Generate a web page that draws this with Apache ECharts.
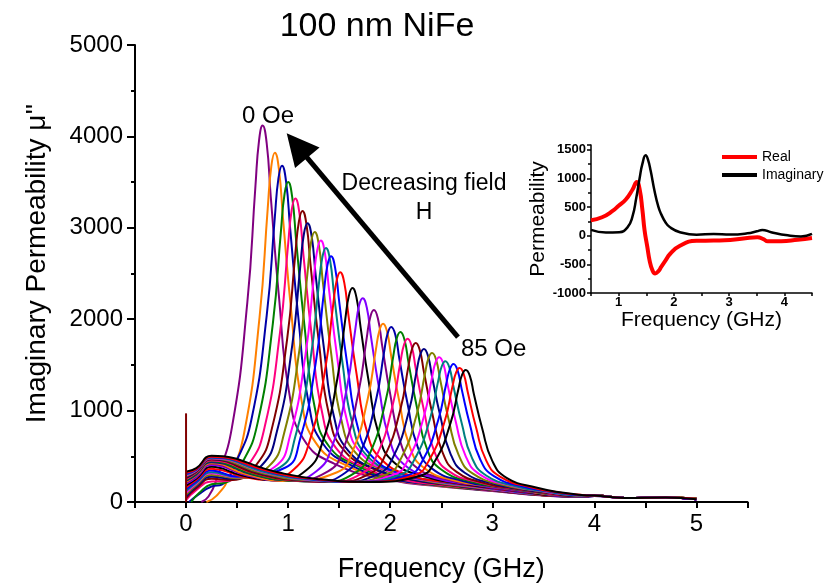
<!DOCTYPE html>
<html><head><meta charset="utf-8">
<script src="https://cdn.jsdelivr.net/npm/echarts@6/dist/echarts.min.js"></script>
<style>html,body{margin:0;padding:0;background:#fff}#c{width:833px;height:588px}</style>
</head><body><div id="c"></div>
<script>
// Main plot: imaginary permeability curves, [frequency GHz, mu''], from 0 Oe (c1) to 85 Oe (c27)
const c1 = [[0.15,0],[0.22,60],[0.3,250],[0.45,820],[0.6,2180],[0.68,3460],[0.715,3955],[0.75,4120],[0.79,3925],[0.83,3340],[0.91,2250],[1.01,1200],[1.15,690],[1.45,420],[2.0,240],[2.5,170],[3.0,120],[3.5,70],[3.9,55],[4.0,65],[4.3,45],[4.7,50],[5.0,30]];
const c2 = [[0.2,0],[0.3,70],[0.42,270],[0.57,760],[0.72,2020],[0.8,3210],[0.835,3670],[0.87,3820],[0.91,3640],[0.95,3100],[1.03,2090],[1.13,1120],[1.27,650],[1.57,400],[2.0,250],[2.5,175],[3.0,125],[3.5,75],[3.9,60],[4.0,70],[4.3,45],[4.7,50],[5.0,30]];
const c3 = [[0.03,0],[0.12,80],[0.25,170],[0.35,190],[0.49,440],[0.64,900],[0.79,2040],[0.87,3120],[0.905,3540],[0.94,3680],[0.98,3505],[1.02,2990],[1.10,2020],[1.20,1090],[1.34,640],[1.64,390],[2.0,255],[2.5,180],[3.0,125],[3.5,75],[3.9,55],[4.0,65],[4.3,45],[4.7,50],[5.0,35]];
const c4 = [[0.05,0],[0.13,100],[0.25,195],[0.38,210],[0.55,430],[0.70,860],[0.85,1950],[0.93,2970],[0.965,3370],[1.0,3500],[1.04,3335],[1.08,2840],[1.16,1930],[1.26,1040],[1.40,610],[1.70,385],[2.0,270],[2.5,180],[3.0,125],[3.5,75],[3.9,60],[4.0,70],[4.3,45],[4.7,50],[5.0,30]];
const c5 = [[0,20],[0.1,130],[0.25,225],[0.4,230],[0.62,420],[0.77,820],[0.92,1850],[1.0,2820],[1.035,3195],[1.07,3320],[1.11,3165],[1.15,2700],[1.23,1830],[1.33,995],[1.47,590],[1.77,365],[2.1,250],[2.5,185],[3.0,125],[3.5,75],[3.9,60],[4.0,70],[4.3,45],[4.7,50],[5.0,30]];
const c6 = [[0,40],[0.1,150],[0.25,255],[0.45,240],[0.69,410],[0.84,800],[0.99,1780],[1.07,2710],[1.105,3065],[1.14,3185],[1.18,3035],[1.22,2590],[1.30,1760],[1.40,960],[1.54,575],[1.84,360],[2.2,245],[2.6,180],[3.0,130],[3.5,75],[3.9,60],[4.0,70],[4.3,45],[4.7,50],[5.0,35]];
const c7 = [[0,60],[0.1,170],[0.25,275],[0.45,255],[0.74,400],[0.89,770],[1.04,1710],[1.12,2590],[1.155,2935],[1.19,3050],[1.23,2910],[1.27,2480],[1.35,1690],[1.45,930],[1.59,560],[1.89,345],[2.2,250],[2.6,185],[3.0,130],[3.5,80],[3.9,60],[4.0,70],[4.3,45],[4.7,50],[5.0,30]];
const c8 = [[0,80],[0.1,185],[0.25,295],[0.5,260],[0.81,390],[0.96,750],[1.11,1660],[1.19,2510],[1.225,2845],[1.26,2955],[1.30,2820],[1.34,2410],[1.42,1640],[1.52,905],[1.66,540],[1.96,340],[2.3,240],[2.7,175],[3.0,135],[3.5,80],[3.9,60],[4.0,70],[4.3,45],[4.7,50],[5.0,35]];
const c9 = [[0,100],[0.1,200],[0.25,315],[0.5,270],[0.87,385],[1.02,730],[1.17,1610],[1.25,2430],[1.285,2755],[1.32,2860],[1.36,2725],[1.40,2330],[1.48,1590],[1.58,875],[1.72,530],[2.02,325],[2.4,230],[2.8,170],[3.1,125],[3.5,80],[3.9,60],[4.0,70],[4.3,45],[4.7,50],[5.0,30]];
const c10 = [[0,120],[0.1,210],[0.25,325],[0.5,275],[0.92,380],[1.07,715],[1.22,1570],[1.30,2370],[1.335,2675],[1.37,2780],[1.41,2650],[1.45,2270],[1.53,1545],[1.63,855],[1.77,510],[2.07,320],[2.4,235],[2.8,175],[3.1,130],[3.5,80],[3.9,60],[4.0,70],[4.3,45],[4.7,50],[5.0,35]];
const c11 = [[0,140],[0.1,225],[0.25,345],[0.5,280],[0.97,375],[1.12,700],[1.27,1520],[1.35,2290],[1.385,2590],[1.42,2690],[1.46,2565],[1.50,2195],[1.58,1500],[1.68,830],[1.82,500],[2.12,305],[2.5,225],[2.9,165],[3.2,120],[3.5,85],[3.9,60],[4.0,70],[4.3,45],[4.7,50],[5.0,30]];
const c12 = [[0,160],[0.1,240],[0.25,365],[0.55,280],[0.8,240],[1.06,360],[1.21,665],[1.36,1430],[1.44,2145],[1.475,2420],[1.51,2515],[1.55,2400],[1.59,2050],[1.67,1405],[1.77,780],[1.91,470],[2.21,285],[2.6,210],[3.0,150],[3.3,110],[3.6,70],[3.9,60],[4.0,70],[4.3,45],[4.7,50],[5.0,35]];
const c13 = [[0,180],[0.1,255],[0.25,385],[0.55,290],[0.9,235],[1.18,350],[1.33,630],[1.48,1335],[1.56,2000],[1.595,2255],[1.63,2340],[1.67,2235],[1.71,1910],[1.79,1315],[1.89,730],[2.03,440],[2.33,280],[2.7,200],[3.0,155],[3.3,115],[3.6,70],[3.9,60],[4.0,70],[4.3,45],[4.7,50],[5.0,30]];
const c14 = [[0,200],[0.1,270],[0.25,405],[0.6,290],[1.0,230],[1.28,340],[1.43,605],[1.58,1275],[1.66,1905],[1.695,2150],[1.73,2230],[1.77,2130],[1.81,1820],[1.89,1250],[1.99,695],[2.13,415],[2.43,265],[2.8,190],[3.1,145],[3.4,105],[3.7,65],[3.9,60],[4.0,70],[4.3,45],[4.7,50],[5.0,35]];
const c15 = [[0,210],[0.1,280],[0.25,415],[0.6,295],[1.0,230],[1.39,335],[1.54,580],[1.69,1205],[1.77,1795],[1.805,2025],[1.84,2100],[1.88,2005],[1.92,1720],[2.0,1180],[2.10,655],[2.24,395],[2.54,250],[2.9,180],[3.2,135],[3.5,95],[3.8,60],[4.0,70],[4.3,45],[4.7,50],[5.0,30]];
const c16 = [[0,220],[0.1,290],[0.25,425],[0.6,300],[1.0,230],[1.48,325],[1.63,550],[1.78,1130],[1.86,1670],[1.895,1880],[1.93,1950],[1.97,1860],[2.01,1595],[2.09,1095],[2.19,610],[2.33,375],[2.63,235],[3.0,170],[3.3,125],[3.6,80],[3.9,60],[4.0,70],[4.3,45],[4.7,50],[5.0,35]];
const c17 = [[0,230],[0.1,300],[0.25,435],[0.65,300],[1.0,235],[1.3,225],[1.56,320],[1.71,545],[1.86,1110],[1.94,1640],[1.975,1845],[2.01,1915],[2.05,1830],[2.09,1565],[2.17,1075],[2.27,600],[2.41,365],[2.71,230],[3.05,165],[3.35,120],[3.65,75],[3.9,60],[4.0,70],[4.3,45],[4.7,50],[5.0,30]];
const c18 = [[0,240],[0.1,310],[0.25,445],[0.65,305],[1.0,235],[1.35,220],[1.65,315],[1.80,530],[1.95,1080],[2.03,1595],[2.065,1795],[2.10,1860],[2.14,1775],[2.18,1520],[2.26,1045],[2.36,580],[2.50,355],[2.80,220],[3.1,160],[3.4,115],[3.7,70],[3.95,65],[4.0,70],[4.3,45],[4.7,50],[5.0,35]];
const c19 = [[0,250],[0.1,320],[0.25,455],[0.7,305],[1.05,235],[1.4,220],[1.72,310],[1.87,515],[2.02,1040],[2.10,1530],[2.135,1720],[2.17,1785],[2.21,1705],[2.25,1460],[2.33,1005],[2.43,560],[2.57,340],[2.87,215],[3.15,155],[3.45,110],[3.75,70],[4.0,70],[4.3,45],[4.7,50],[5.0,30]];
const c20 = [[0,260],[0.1,330],[0.25,465],[0.7,310],[1.1,235],[1.45,220],[1.80,310],[1.95,510],[2.10,1015],[2.18,1495],[2.215,1680],[2.25,1740],[2.29,1660],[2.33,1425],[2.41,980],[2.51,550],[2.65,330],[2.95,200],[3.2,150],[3.5,105],[3.8,65],[4.0,70],[4.3,45],[4.7,50],[5.0,35]];
const c21 = [[0,270],[0.1,335],[0.25,470],[0.75,310],[1.1,240],[1.5,220],[1.88,305],[2.03,495],[2.18,980],[2.26,1440],[2.295,1615],[2.33,1675],[2.37,1600],[2.41,1370],[2.49,945],[2.59,530],[2.73,320],[3.03,195],[3.3,140],[3.6,95],[3.85,65],[4.0,70],[4.3,45],[4.7,50],[5.0,30]];
const c22 = [[0,280],[0.1,340],[0.25,475],[0.75,315],[1.15,240],[1.55,220],[1.96,300],[2.11,485],[2.26,960],[2.34,1400],[2.375,1575],[2.41,1630],[2.45,1555],[2.49,1335],[2.57,915],[2.67,515],[2.81,310],[3.11,185],[3.4,130],[3.7,85],[3.9,65],[4.0,70],[4.3,45],[4.7,50],[5.0,35]];
const c23 = [[0,290],[0.1,345],[0.25,480],[0.8,315],[1.2,240],[1.6,220],[2.03,295],[2.18,475],[2.33,935],[2.41,1365],[2.445,1530],[2.48,1585],[2.52,1515],[2.56,1295],[2.64,890],[2.74,500],[2.88,300],[3.18,180],[3.45,125],[3.75,80],[4.0,70],[4.3,45],[4.7,50],[5.0,30]];
const c24 = [[0,300],[0.1,350],[0.25,485],[0.8,320],[1.2,245],[1.65,220],[2.09,295],[2.24,470],[2.39,910],[2.47,1325],[2.505,1485],[2.54,1540],[2.58,1470],[2.62,1260],[2.70,865],[2.80,485],[2.94,290],[3.24,170],[3.5,120],[3.8,75],[4.0,70],[4.3,45],[4.7,50],[5.0,35]];
const c25 = [[0,310],[0.1,355],[0.25,490],[0.85,320],[1.25,245],[1.7,220],[2.17,290],[2.32,460],[2.47,895],[2.55,1300],[2.585,1455],[2.62,1510],[2.66,1440],[2.70,1235],[2.78,850],[2.88,470],[3.02,280],[3.32,165],[3.6,110],[3.85,75],[4.0,70],[4.3,45],[4.7,50],[5.0,30]];
const c26 = [[0,320],[0.1,360],[0.25,495],[0.85,325],[1.3,245],[1.75,220],[2.23,290],[2.38,455],[2.53,870],[2.61,1265],[2.645,1415],[2.68,1465],[2.72,1400],[2.76,1200],[2.84,820],[2.94,455],[3.08,275],[3.38,160],[3.65,105],[3.9,75],[4.0,70],[4.3,45],[4.7,50],[5.0,35]];
const c27 = [[0,330],[0.1,370],[0.25,505],[0.9,325],[1.3,250],[1.8,220],[2.29,285],[2.44,450],[2.59,860],[2.67,1245],[2.705,1395],[2.74,1445],[2.78,1380],[2.82,1180],[2.90,810],[3.00,450],[3.14,265],[3.44,155],[3.7,100],[3.9,75],[4.0,70],[4.3,45],[4.7,50],[5.0,30]];
const spike = [[0,0],[0,970]];

// Inset: complex permeability of one curve
const insetReal = [[0.5,270],[0.7,320],[0.89,430],[1.0,520],[1.13,630],[1.25,800],[1.33,935],[1.38,810],[1.43,450],[1.47,90],[1.52,-200],[1.56,-430],[1.61,-600],[1.66,-660],[1.72,-620],[1.77,-545],[1.85,-430],[1.93,-320],[2.11,-175],[2.41,-90],[2.72,-85],[3.02,-75],[3.33,-40],[3.51,-30],[3.62,-60],[3.70,-100],[3.94,-98],[4.24,-70],[4.5,-40]];
const insetImag = [[0.5,100],[0.77,55],[1.01,60],[1.16,145],[1.25,330],[1.32,660],[1.38,1000],[1.43,1250],[1.49,1400],[1.53,1330],[1.58,1130],[1.65,780],[1.72,500],[1.77,375],[1.85,230],[1.93,145],[2.11,60],[2.41,15],[2.72,30],[3.02,20],[3.33,40],[3.5,75],[3.6,100],[3.76,60],[4.06,5],[4.3,-15],[4.5,30]];

// Arrow annotation (data coords): tail and head
const arrowTail = [2.664, 1805];
const arrowHead = [1.087, 3900];

const curves = [c1,c2,c3,c4,c5,c6,c7,c8,c9,c10,c11,c12,c13,c14,c15,c16,c17,c18,c19,c20,c21,c22,c23,c24,c25,c26,c27];
const palette = ['#800080','#FF8000','#0000A8','#008000','#FF0080','#800000','#000080','#808000','#FF00FF','#008080','#0000FF','#FF0000','#000000','#8000FF'];

const FONT = "'Liberation Sans', Arial, sans-serif";
const chart = echarts.init(document.getElementById('c'), null, {renderer:'canvas'});

const mainSeries = curves.map((d, i) => ({
  type:'line', xAxisIndex:0, yAxisIndex:0, data:d, smooth:0.5,
  showSymbol:false, silent:true, clip:true,
  lineStyle:{width:2, color:palette[i % palette.length]}
}));
mainSeries.push({
  type:'line', xAxisIndex:0, yAxisIndex:0, data:spike, showSymbol:false, silent:true,
  lineStyle:{width:2, color:'#800000'}
});
mainSeries.push({
  type:'line', xAxisIndex:0, yAxisIndex:0, data:[], silent:true,
  markLine:{
    silent:true, animation:false,
    symbol:['none','triangle'], symbolSize:32,
    label:{show:false},
    lineStyle:{color:'#000', width:5, type:'solid'},
    data:[[{coord:arrowTail, symbol:'none'},{coord:arrowHead, symbol:'triangle', symbolSize:32}]]
  }
});

const axisLineStyle = {color:'#000', width:2};

const option = {
  animation:false,
  backgroundColor:'#fff',
  grid:[
    {left:135, top:45, right:85.5, bottom:86, containLabel:false},
    {left:591, top:145, width:221, height:148, containLabel:false}
  ],
  xAxis:[
    {type:'value', gridIndex:0, min:-0.5, max:5.5, interval:0.5,
     axisLine:{show:true, onZero:false, lineStyle:axisLineStyle},
     axisTick:{show:true, length:6, lineStyle:axisLineStyle},
     axisLabel:{formatter:v => Number.isInteger(v) ? String(v) : '', fontSize:24, color:'#000', margin:10, fontFamily:FONT},
     splitLine:{show:false},
     name:'Frequency (GHz)', nameLocation:'middle', nameGap:54,
     nameTextStyle:{fontSize:27, color:'#000', fontFamily:FONT}},
    {type:'value', gridIndex:1, min:0.5, max:4.5, interval:0.5,
     axisLine:{show:true, onZero:false, lineStyle:{color:'#000', width:1.5}},
     axisTick:{show:true, length:3, lineStyle:{color:'#000', width:1.5}},
     axisLabel:{formatter:v => Number.isInteger(v) ? String(v) : '', fontSize:13, fontWeight:'bold', color:'#000', margin:3, fontFamily:FONT},
     splitLine:{show:false},
     name:'Frequency (GHz)', nameLocation:'middle', nameGap:13,
     nameTextStyle:{fontSize:21, color:'#000', fontFamily:FONT}}
  ],
  yAxis:[
    {type:'value', gridIndex:0, min:0, max:5000, interval:1000,
     axisLine:{show:true, onZero:false, lineStyle:axisLineStyle},
     axisTick:{show:true, length:8, lineStyle:axisLineStyle},
     minorTick:{show:true, splitNumber:2, length:4, lineStyle:axisLineStyle},
     axisLabel:{formatter:v => String(v), fontSize:24, color:'#000', margin:12, fontFamily:FONT},
     splitLine:{show:false}, minorSplitLine:{show:false},
     name:"Imaginary Permeability \u03bc''", nameLocation:'middle', nameGap:84, nameRotate:90,
     nameTextStyle:{fontSize:28, color:'#000', fontFamily:FONT, padding:[0,0,0,20]}},
    {type:'value', gridIndex:1, min:-1000, max:1580, interval:500,
     axisLine:{show:true, onZero:false, lineStyle:{color:'#000', width:1.5}},
     axisTick:{show:true, length:4, lineStyle:{color:'#000', width:1.5}},
     minorTick:{show:true, splitNumber:2, length:3, lineStyle:{color:'#000', width:1.5}},
     axisLabel:{formatter:v => (v % 500 === 0 ? String(v) : ''), fontSize:13, fontWeight:'bold', color:'#000', margin:5, fontFamily:FONT},
     splitLine:{show:false}, minorSplitLine:{show:false},
     name:'Permeability', nameLocation:'middle', nameGap:36, nameRotate:90,
     nameTextStyle:{fontSize:21, color:'#000', fontFamily:FONT}}
  ],
  legend:{
    orient:'vertical', left:722, top:150, itemWidth:35, itemHeight:4, itemGap:4,
    icon:'rect', padding:0,
    textStyle:{fontSize:14, color:'#000', fontFamily:FONT},
    data:['Real','Imaginary']
  },
  graphic:[
    {type:'text', x:377, y:27, style:{text:'100 nm NiFe', fontSize:34, fontFamily:FONT, fill:'#000', align:'center', verticalAlign:'middle'}},
    {type:'text', x:242, y:116, style:{text:'0 Oe', fontSize:24, fontFamily:FONT, fill:'#000', align:'left', verticalAlign:'middle'}},
    {type:'text', x:424, y:184, style:{text:'Decreasing field', fontSize:23, fontFamily:FONT, fill:'#000', align:'center', verticalAlign:'middle'}},
    {type:'text', x:424, y:213, style:{text:'H', fontSize:23, fontFamily:FONT, fill:'#000', align:'center', verticalAlign:'middle'}},
    {type:'text', x:461, y:349, style:{text:'85 Oe', fontSize:24, fontFamily:FONT, fill:'#000', align:'left', verticalAlign:'middle'}}
  ],
  series: mainSeries.concat([
    {name:'Real', type:'line', xAxisIndex:1, yAxisIndex:1, data:insetReal, smooth:0.5,
     showSymbol:false, silent:true, lineStyle:{width:4, color:'#FF0000'}, itemStyle:{color:'#FF0000'}},
    {name:'Imaginary', type:'line', xAxisIndex:1, yAxisIndex:1, data:insetImag, smooth:0.5,
     showSymbol:false, silent:true, lineStyle:{width:2.5, color:'#000'}, itemStyle:{color:'#000'}}
  ])
};
chart.setOption(option);
</script></body></html>
